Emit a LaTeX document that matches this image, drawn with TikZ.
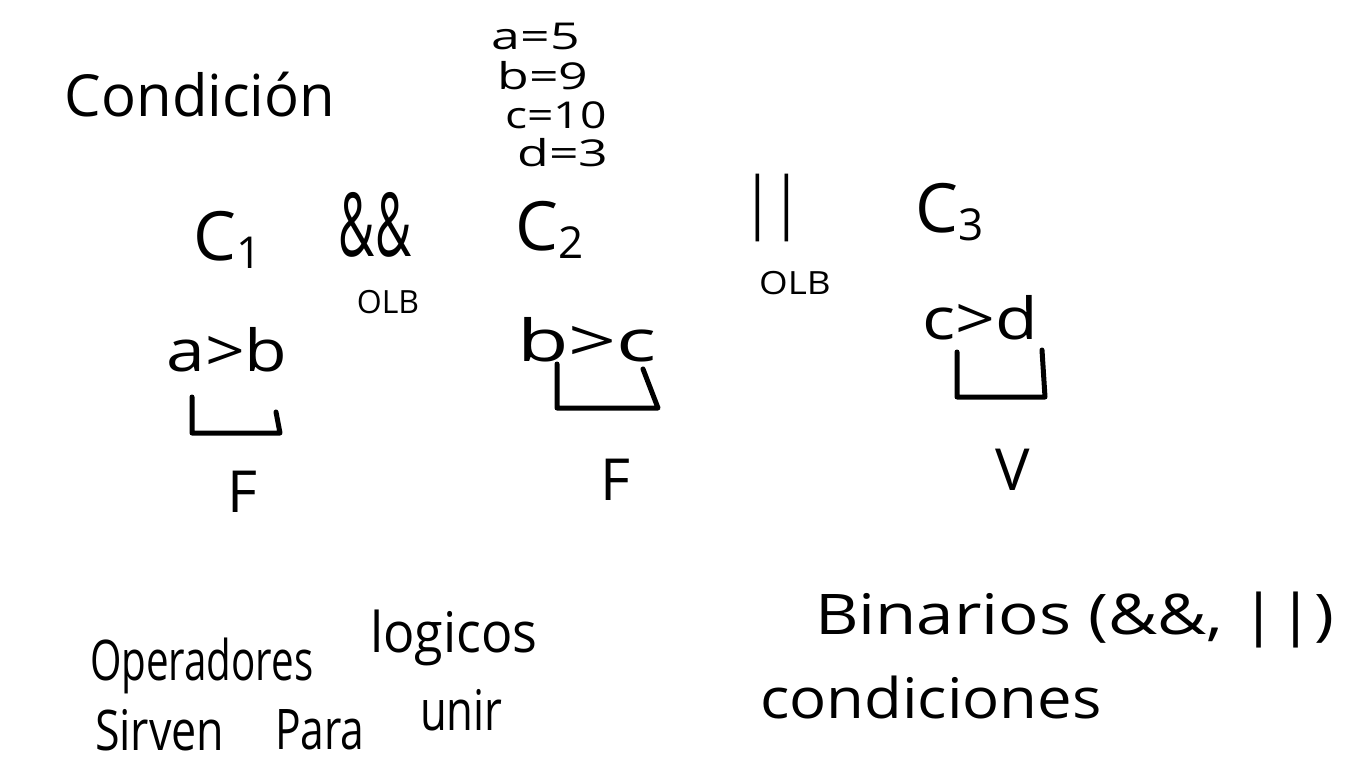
\documentclass[tikz,border=0pt]{standalone}
\usepackage{graphicx}
\usepackage{fontspec}
\setmainfont{Open Sans}
\newcommand{\hsc}[2]{\scalebox{#1}[1]{#2}}
\newcommand{\csub}[1]{{\fontsize{44}{44}\selectfont\raisebox{-8pt}{#1}}}
\begin{document}
\begin{tikzpicture}[x=1pt,y=-1pt,
  every node/.style={inner sep=0pt,outer sep=0pt,text=black},
  title/.style={font=\fontsize{58}{62}\selectfont},
  cond/.style={font=\fontsize{68}{70}\selectfont},
  cmp/.style={font=\fontsize{58}{60}\selectfont},
  res/.style={font=\fontsize{58}{60}\selectfont},
  vars/.style={font=\fontsize{37}{38}\selectfont},
  op/.style={font=\fontsize{52}{54}\selectfont},
  small/.style={font=\fontsize{32}{34}\selectfont},
  words/.style={font=\fontsize{56}{60}\selectfont,anchor=base west},
  bracket/.style={line width=5pt,line cap=round,line join=round}]
\useasboundingbox (0,0) rectangle (1366,768);
\fill[white] (0,0) rectangle (1366,768);
% title and values
\node[title] (cond) at (200,95) {Condición};
\node[vars] (va) at (536,36) {\hsc{1.4}{a=5}};
\node[vars] (vb) at (543,76) {\hsc{1.4}{b=9}};
\node[vars] (vc) at (556,115) {\hsc{1.25}{c=10}};
\node[vars] (vd) at (563,153) {\hsc{1.4}{d=3}};
% conditions and operators
\node[cond] (c1) at (228,240) {C\csub{1}};
\node[op] (and) at (375,225) {\scalebox{0.95}[1.7]{\&\&}};
\node[small] (olb1) at (388,302) {OLB};
\node[cond] (c2) at (550,230) {C\csub{2}};
\node[op] (or) at (772,208) {\scalebox{1}[1.3]{||}};
\node[small] (olb2) at (795,283) {\hsc{1.15}{OLB}};
\node[cond] (c3) at (950,212) {C\csub{3}};
% comparisons
\node[cmp] (ab) at (227,350) {\hsc{1.2}{a>b}};
\node[cmp] (bc) at (587,340) {\hsc{1.45}{b>c}};
\node[cmp] (cd) at (980,318) {\hsc{1.2}{c>d}};
% brackets
\coordinate (b1l) at (192,397);
\coordinate (b1r) at (276,412);
\draw[bracket] (b1l) -- (192,433) -- (280,433) -- (b1r);
\coordinate (b2l) at (557,364);
\coordinate (b2r) at (643,369);
\draw[bracket] (b2l) -- (557,408) -- (658,408) -- (b2r);
\coordinate (b3l) at (957,352);
\coordinate (b3r) at (1042,350);
\draw[bracket] (b3l) -- (957,397) -- (1045,397) -- (b3r);
% results
\node[res] (r1) at (242,492) {F};
\node[res] (r2) at (615,480) {F};
\node[res] (r3) at (1013,470) {V};
% bottom text
\node[words] (op) at (90,680) {\hsc{0.72}{Operadores}};
\node[words] (lg) at (370,652) {\hsc{0.93}{logicos}};
\node[words] (bin) at (815,634) {\hsc{1.2}{Binarios (\&\&, ||)}};
\node[words] (sir) at (95,750) {\hsc{0.8}{Sirven}};
\node[words] (par) at (275,749) {\hsc{0.76}{Para}};
\node[words] (uni) at (420,730) {\hsc{0.78}{unir}};
\node[words] (con) at (760,718) {\hsc{1.1}{condiciones}};
\end{tikzpicture}
\end{document}
